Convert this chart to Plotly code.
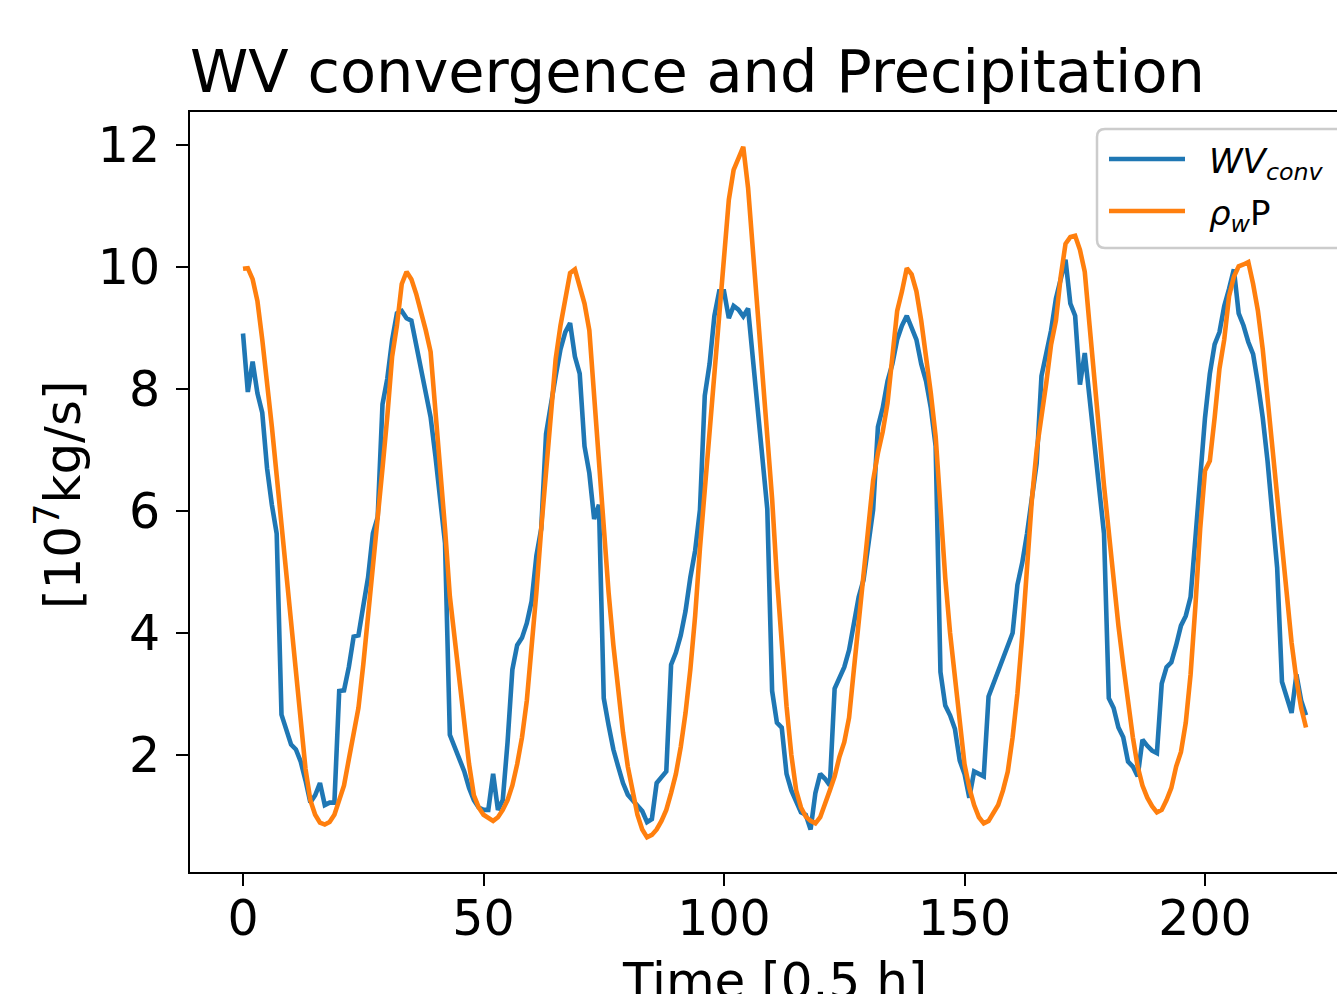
import plotly.graph_objects as go

# ---------------- data ----------------
time_steps = list(range(222))

wv_conv = [
    8.91, 7.95, 8.45, 7.93, 7.61, 6.70, 6.10, 5.63, 2.66, 2.41,
    2.17, 2.09, 1.89, 1.58, 1.22, 1.34, 1.54, 1.18, 1.22, 1.22,
    3.05, 3.06, 3.44, 3.94, 3.96, 4.44, 4.91, 5.63, 5.90, 7.75,
    8.17, 8.80, 9.24, 9.28, 9.16, 9.12, 8.72, 8.33, 8.01, 7.54,
    6.90, 6.19, 5.47, 2.33, 2.13, 1.93, 1.73, 1.46, 1.26, 1.14,
    1.10, 1.10, 1.69, 1.10, 1.26, 2.21, 3.40, 3.80, 3.92, 4.16,
    4.52, 5.27, 5.71, 7.26, 7.77, 8.21, 8.65, 8.93, 9.08, 8.53,
    8.25, 7.06, 6.62, 5.87, 6.10, 2.93, 2.49, 2.09, 1.81, 1.54,
    1.35, 1.26, 1.16, 1.08, 0.90, 0.95, 1.54, 1.64, 1.73, 3.48,
    3.68, 3.96, 4.36, 4.91, 5.35, 6.02, 7.89, 8.41, 9.20, 9.60,
    9.60, 9.16, 9.36, 9.30, 9.19, 9.32, 8.49, 7.61, 6.90, 6.03,
    3.05, 2.53, 2.45, 1.69, 1.42, 1.22, 1.06, 1.02, 0.78, 1.38,
    1.69, 1.61, 1.50, 3.09, 3.29, 3.44, 3.72, 4.20, 4.59, 4.87,
    5.39, 6.02, 7.38, 7.69, 8.13, 8.41, 8.81, 9.04, 9.20, 9.00,
    8.81, 8.41, 8.13, 7.69, 7.06, 3.36, 2.81, 2.65, 2.43, 1.91,
    1.69, 1.30, 1.73, 1.69, 1.65, 2.96, 3.17, 3.36, 3.56, 3.80,
    4.00, 4.79, 5.15, 5.63, 6.26, 6.78, 8.21, 8.57, 8.96, 9.48,
    9.84, 10.12, 9.40, 9.20, 8.07, 8.59, 7.85, 7.14, 6.50, 5.63,
    2.93, 2.77, 2.45, 2.29, 1.89, 1.81, 1.65, 2.25, 2.15, 2.07,
    2.03, 3.17, 3.44, 3.52, 3.80, 4.12, 4.28, 4.59, 5.55, 6.66,
    7.53, 8.25, 8.73, 8.93, 9.36, 9.64, 9.96, 9.24, 9.04, 8.77,
    8.57, 8.09, 7.53, 6.82, 5.94, 5.07, 3.20, 2.93, 2.69, 3.32,
    2.89, 2.65,
]

rho_w_p = [
    9.97, 9.98, 9.80, 9.44, 8.81, 8.17, 7.38, 6.58, 5.79, 4.91,
    4.08, 3.24, 2.49, 1.77, 1.26, 1.02, 0.89, 0.86, 0.90, 1.02,
    1.26, 1.50, 1.93, 2.33, 2.77, 3.48, 4.24, 5.07, 5.94, 6.70,
    7.55, 8.53, 9.04, 9.72, 9.92, 9.80, 9.56, 9.28, 8.96, 8.61,
    7.69, 6.70, 5.71, 4.60, 3.88, 3.17, 2.49, 1.85, 1.34, 1.14,
    1.02, 0.96, 0.92, 0.98, 1.10, 1.26, 1.50, 1.85, 2.29, 2.89,
    3.72, 4.67, 5.71, 6.70, 7.61, 8.49, 9.04, 9.48, 9.90, 9.96,
    9.65, 9.40, 8.96, 7.85, 6.82, 5.79, 4.67, 3.80, 3.05, 2.37,
    1.81, 1.38, 1.02, 0.78, 0.65, 0.69, 0.78, 0.92, 1.10, 1.38,
    1.69, 2.13, 2.69, 3.40, 4.28, 5.39, 6.40, 7.40, 8.30, 9.20,
    10.15, 11.10, 11.59, 11.79, 11.97, 11.30, 10.30, 9.30, 8.40, 7.40,
    6.20, 4.90, 3.80, 2.80, 2.00, 1.42, 1.14, 0.99, 0.92, 0.88,
    0.98, 1.18, 1.42, 1.65, 1.97, 2.21, 2.61, 3.40, 4.20, 4.99,
    5.79, 6.50, 6.95, 7.30, 7.77, 8.57, 9.28, 9.60, 9.98, 9.88,
    9.60, 9.12, 8.57, 7.93, 7.22, 5.94, 4.90, 4.00, 3.30, 2.45,
    1.85, 1.46, 1.18, 0.98, 0.88, 0.92, 1.06, 1.18, 1.42, 1.73,
    2.29, 3.01, 3.96, 5.07, 6.18, 7.00, 7.50, 8.10, 8.73, 9.12,
    9.84, 10.38, 10.49, 10.51, 10.28, 9.92, 9.04, 8.09, 7.30, 6.42,
    5.63, 4.75, 4.12, 3.48, 2.85, 2.29, 1.81, 1.50, 1.30, 1.16,
    1.06, 1.10, 1.26, 1.46, 1.81, 2.05, 2.53, 3.32, 4.44, 5.71,
    6.66, 6.82, 7.53, 8.33, 8.81, 9.52, 9.84, 10.01, 10.04, 10.08,
    9.72, 9.28, 8.65, 7.85, 7.06, 6.18, 5.31, 4.52, 3.84, 3.24,
    2.77, 2.45,
]

x_ticks = [0, 50, 100, 150, 200]
y_ticks = [2, 4, 6, 8, 10, 12]
series_names = ["<i>WV</i><sub><i>conv</i></sub>", "<i>ρ</i><sub><i>w</i></sub>P"]
series_colors = ["#1f77b4", "#ff7f0e"]

# ---------------- layout geometry ----------------
W, H = 1337, 994
ML, MR, MT, MB = 190, 0, 112, 122
PW, PH = W - ML - MR, H - MT - MB
FONT = "DejaVu Sans"


def px_x(p):
    return (p - ML) / PW


def px_y(p):
    return 1 - (p - MT) / PH


fig = go.Figure()
for ys, name, col in zip([wv_conv, rho_w_p], series_names, series_colors):
    fig.add_trace(go.Scatter(x=time_steps, y=ys, mode="lines", name=name,
                             line=dict(color=col, width=4.6), showlegend=False))

axis_common = dict(showgrid=False, zeroline=False, showline=True, linecolor="black",
                   linewidth=2, ticks="outside", ticklen=12, tickwidth=2,
                   tickcolor="black", tickfont=dict(family=FONT, size=49, color="black"))

fig.update_xaxes(range=[-11.02, 227.44], tickvals=x_ticks, mirror=True,
                 ticklabelstandoff=-10, **axis_common)
fig.update_yaxes(range=[0.082, 12.54], tickvals=y_ticks, mirror=False,
                 ticklabelstandoff=6, **axis_common)

# legend (drawn manually to match the cropped, rounded matplotlib legend)
lx0, lx1, ly0, ly1, r = 1097, 1360, 129, 248, 8
rx, ry = r / PW, r / PH
x0, x1, y0, y1 = px_x(lx0), px_x(lx1), px_y(ly0), px_y(ly1)
path = (f"M {x0+rx},{y0} L {x1-rx},{y0} Q {x1},{y0} {x1},{y0-ry} "
        f"L {x1},{y1+ry} Q {x1},{y1} {x1-rx},{y1} L {x0+rx},{y1} "
        f"Q {x0},{y1} {x0},{y1+ry} L {x0},{y0-ry} Q {x0},{y0} {x0+rx},{y0} Z")
shapes = [dict(type="path", xref="paper", yref="paper", path=path,
               line=dict(color="#cccccc", width=2.5), fillcolor="rgba(255,255,255,0.8)")]
annotations = []
for i, (name, col) in enumerate(zip(series_names, series_colors)):
    yy = 159 + 52 * i
    shapes.append(dict(type="line", xref="paper", yref="paper",
                       x0=px_x(1109), x1=px_x(1185), y0=px_y(yy), y1=px_y(yy),
                       line=dict(color=col, width=4.6)))
    annotations.append(dict(text=name, xref="paper", yref="paper", x=px_x(1207),
                            y=px_y(yy + 4), xanchor="left", yanchor="middle",
                            showarrow=False, font=dict(family=FONT, size=34, color="black")))

# axis titles
annotations.append(dict(text="Time [0.5 h]", xref="paper", yref="paper",
                        x=px_x(774), y=px_y(950), xanchor="center", yanchor="top",
                        showarrow=False, font=dict(family=FONT, size=50, color="black")))
annotations.append(dict(text="[10<sup>7</sup>kg/s]", xref="paper", yref="paper",
                        x=px_x(60), y=px_y(495), xanchor="center", yanchor="middle",
                        textangle=-90, showarrow=False,
                        font=dict(family=FONT, size=50, color="black")))

fig.update_layout(
    width=W, height=H,
    margin=dict(l=ML, r=MR, t=MT, b=MB),
    paper_bgcolor="white", plot_bgcolor="white",
    title=dict(text="WV convergence and Precipitation", xref="paper", x=0, xanchor="left",
               yref="container", y=1 - 92 / H, yanchor="bottom",
               font=dict(family=FONT, size=59, color="black")),
    shapes=shapes, annotations=annotations, showlegend=False,
)

fig.write_html("out.html")
